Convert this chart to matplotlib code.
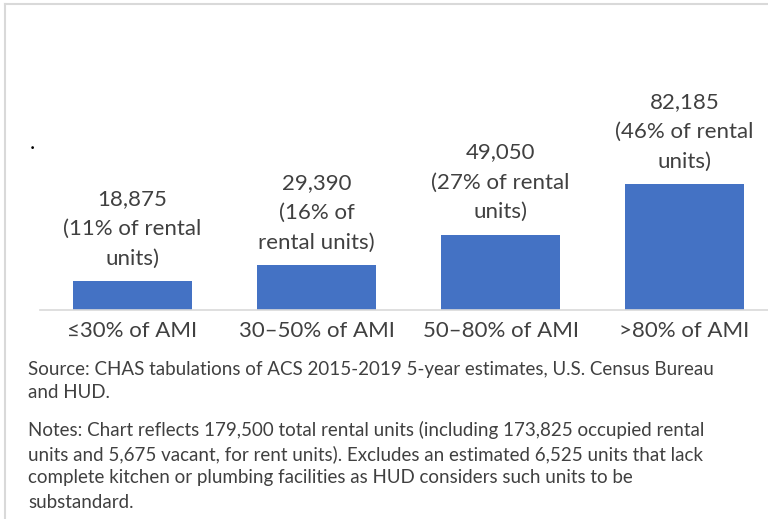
import matplotlib.pyplot as plt
from matplotlib.lines import Line2D

# Rental units by income band
categories = ['≤30% of AMI', '30–50% of AMI', '50–80% of AMI', '>80% of AMI']
units = [18875, 29390, 49050, 82185]
shares = [11, 16, 27, 46]
bar_labels = [
    '18,875\n(11% of rental\nunits)',
    '29,390\n(16% of\nrental units)',
    '49,050\n(27% of rental\nunits)',
    '82,185\n(46% of rental\nunits)',
]
source_lines = [
    'Source: CHAS tabulations of ACS 2015-2019 5-year estimates, U.S. Census Bureau',
    'and HUD.',
]
notes_lines = [
    'Notes: Chart reflects 179,500 total rental units (including 173,825 occupied rental',
    'units and 5,675 vacant, for rent units). Excludes an estimated 6,525 units that lack',
    'complete kitchen or plumbing facilities as HUD considers such units to be',
    'substandard.',
]

plt.rcParams['font.family'] = ['Lato', 'DejaVu Sans']
text_color = '#404040'
W, H = 768, 519

fig = plt.figure(figsize=(W / 100, H / 100), dpi=100)

# axes box in pixels: left 40.5, right 776.5, bottom at 310, top at 20
left, right, bottom, top = 40.5, 776.5, 310, 20
ax = fig.add_axes([left / W, 1 - bottom / H, (right - left) / W, (bottom - top) / H])
px_per_unit = 126 / 82185
ax.set_ylim(0, (bottom - top) / px_per_unit)
ax.set_xlim(-0.5, 3.5)

xs = range(len(categories))
bars = ax.bar(xs, units, width=0.647, color='#4472C4')
for x, v, lab in zip(xs, units, bar_labels):
    ax.annotate(lab, (x, v), xytext=(0, 9), textcoords='offset points',
                ha='center', va='bottom', fontsize=16, color=text_color,
                linespacing=1.62)

ax.set_xticks(list(xs))
ax.set_xticklabels(categories, fontsize=16, color=text_color)
ax.tick_params(axis='x', length=0, pad=8)
ax.set_yticks([])
for side in ['top', 'right', 'left']:
    ax.spines[side].set_visible(False)
ax.spines['bottom'].set_color('#D9D9D9')
ax.spines['bottom'].set_linewidth(1.2)

# stray dot above the first bar
fig.text(32 / W, 1 - 143 / H, '.', fontsize=16, color='black', ha='center', va='center')

# source and notes below the chart
for i, line in enumerate(source_lines):
    fig.text(28 / W, 1 - (369 + 23 * i) / H, line, fontsize=13.5,
             color=text_color, va='center', ha='left')
for i, line in enumerate(notes_lines):
    fig.text(28 / W, 1 - (430 + 24 * i) / H, line, fontsize=13.5,
             color=text_color, va='center', ha='left')

# frame edges at top and left
fig.add_artist(Line2D([5 / W, 1], [1 - 4 / H, 1 - 4 / H], color='#D9D9D9', lw=1.5,
                      transform=fig.transFigure))
fig.add_artist(Line2D([5 / W, 5 / W], [0, 1 - 4 / H], color='#D9D9D9', lw=1.5,
                      transform=fig.transFigure))

fig.savefig('out.png', dpi=100)
